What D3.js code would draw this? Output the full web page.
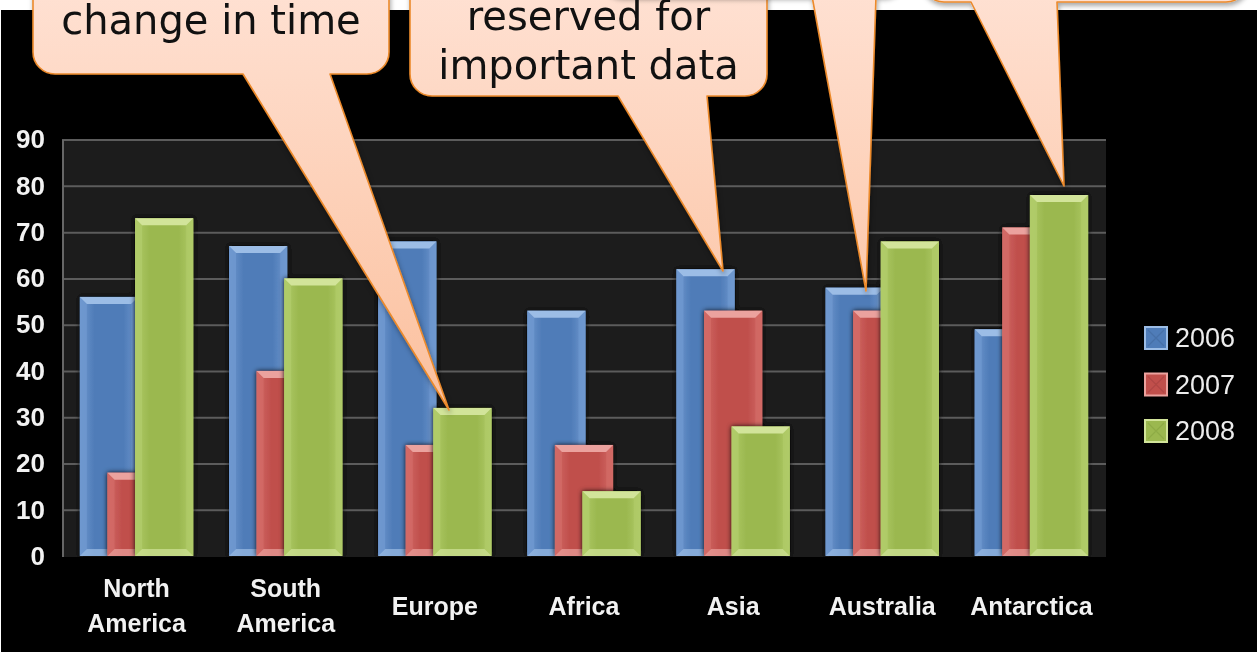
<!DOCTYPE html>
<html>
<head>
<meta charset="utf-8">
<script src="https://cdn.jsdelivr.net/npm/d3@7"></script>
<style>
  html, body { margin: 0; padding: 0; background: #ffffff; }
  svg { display: block; }
</style>
</head>
<body>
<svg id="chart" width="1257" height="652"></svg>
<script>
// ---- data ----
const categories = ["North America", "South America", "Europe", "Africa", "Asia", "Australia", "Antarctica"];
const seriesNames = ["2006", "2007", "2008"];
const values2006 = [56, 67, 68, 53, 62, 58, 49];
const values2007 = [18, 40, 24, 24, 53, 53, 71];
const values2008 = [73, 60, 32, 14, 28, 68, 78];
const yTicks = [0, 10, 20, 30, 40, 50, 60, 70, 80, 90];

// callout texts
const callouts = [
  { lines: ["change in time"] },
  { lines: ["reserved for", "important data"] },
  { lines: [] },
  { lines: [] }
];

const seriesValues = [values2006, values2007, values2008];

// bar palettes: body, cap (bevel highlight), side
const palette = [
  { body: "#4f7cb8", light: "#6f98cf", cap: "#9cbde6", dark: "#41699f" },
  { body: "#c04f4c", light: "#d26a66", cap: "#eba29e", dark: "#a5403d" },
  { body: "#9bb84f", light: "#b0cb68", cap: "#d2e49a", dark: "#86a33f" }
];

const svg = d3.select("#chart");
const W = 1257, H = 652;

// ---- layout ----
const plot = { left: 62, right: 1106, top: 140, bottom: 557 };

const x = d3.scaleBand().domain(categories).range([plot.left, plot.right]).padding(0);
const y = d3.scaleLinear().domain([0, 90]).range([556, 139.6]);

const defs = svg.append("defs");

// soft look of the chart image
const soft = defs.append("filter").attr("id", "soft").attr("x", "-5%").attr("y", "-5%").attr("width", "110%").attr("height", "110%");
soft.append("feGaussianBlur").attr("stdDeviation", 0.6);

const barShadow = defs.append("filter").attr("id", "barShadow").attr("x", "-20%").attr("y", "-20%").attr("width", "140%").attr("height", "140%");
barShadow.append("feDropShadow").attr("dx", 0).attr("dy", 0).attr("stdDeviation", 2.5)
  .attr("flood-color", "#000").attr("flood-opacity", 0.9);

const bubbleShadow = defs.append("filter").attr("id", "bubbleShadow").attr("x", "-10%").attr("y", "-10%").attr("width", "120%").attr("height", "130%");
bubbleShadow.append("feDropShadow").attr("dx", 1).attr("dy", 3).attr("stdDeviation", 2.5)
  .attr("flood-color", "#000").attr("flood-opacity", 0.35);

const bubbleFill = defs.append("linearGradient").attr("id", "bubbleFill")
  .attr("gradientUnits", "userSpaceOnUse").attr("x1", 0).attr("y1", -40).attr("x2", 0).attr("y2", 420);
bubbleFill.append("stop").attr("offset", 0).attr("stop-color", "#ffe3d6");
bubbleFill.append("stop").attr("offset", 1).attr("stop-color", "#fbbf9c");

palette.forEach((p, i) => {
  const g = defs.append("linearGradient").attr("id", "barBody" + i)
    .attr("x1", 0).attr("y1", 0).attr("x2", 1).attr("y2", 0);
  g.append("stop").attr("offset", 0).attr("stop-color", p.light);
  g.append("stop").attr("offset", 0.25).attr("stop-color", p.body);
  g.append("stop").attr("offset", 0.75).attr("stop-color", p.body);
  g.append("stop").attr("offset", 1).attr("stop-color", p.light);
});

// ---- background ----
svg.append("rect").attr("x", 0).attr("y", 0).attr("width", W).attr("height", H).attr("fill", "#ffffff");
svg.append("rect").attr("x", 1).attr("y", 10).attr("width", W - 1).attr("height", H - 10).attr("fill", "#000000");

const chart = svg.append("g").attr("filter", "url(#soft)");

chart.append("rect")
  .attr("x", plot.left).attr("y", plot.top)
  .attr("width", plot.right - plot.left).attr("height", plot.bottom - plot.top)
  .attr("fill", "#1b1b1b");

// gridlines + y labels through a d3 axis
const yAxis = chart.append("g")
  .attr("transform", `translate(${plot.left},0)`)
  .call(d3.axisLeft(y).tickValues(yTicks).tickSize(-(plot.right - plot.left)).tickPadding(17));
yAxis.select(".domain").remove();
yAxis.selectAll(".tick line")
  .attr("stroke", "#5c5c5c").attr("stroke-width", 2)
  .attr("display", d => d === 0 ? "none" : null);
yAxis.selectAll(".tick text")
  .attr("fill", "#f2f2f2")
  .attr("font-family", "'Liberation Sans', Arial, sans-serif")
  .attr("font-weight", "bold")
  .attr("font-size", 26);

// vertical axis line
chart.append("line")
  .attr("x1", plot.left + 1).attr("x2", plot.left + 1)
  .attr("y1", plot.top).attr("y2", plot.bottom)
  .attr("stroke", "#666").attr("stroke-width", 2);

// ---- bars ----
const band = x.bandwidth();
const barW = band * 0.39;
const step = band * 0.185;

function bevelBar(g, bx, by, bw, bh, p, i) {
  const b = Math.min(7, bh / 2, bw / 2);
  const x0 = bx, x1 = bx + bw, y0 = by, y1 = by + bh;
  g.append("rect").attr("x", x0).attr("y", y0).attr("width", bw).attr("height", bh)
    .attr("fill", `url(#barBody${i})`);
  // side bevels
  g.append("path").attr("d", `M${x0},${y0}L${x0 + b},${y0 + b}L${x0 + b},${y1 - b}L${x0},${y1}Z`)
    .attr("fill", p.light).attr("opacity", 0.85);
  g.append("path").attr("d", `M${x1},${y0}L${x1 - b},${y0 + b}L${x1 - b},${y1 - b}L${x1},${y1}Z`)
    .attr("fill", p.light).attr("opacity", 0.75);
  // top cap
  g.append("path").attr("d", `M${x0},${y0}L${x1},${y0}L${x1 - b},${y0 + b}L${x0 + b},${y0 + b}Z`)
    .attr("fill", p.cap);
  // bottom bevel
  g.append("path").attr("d", `M${x0},${y1}L${x1},${y1}L${x1 - b},${y1 - b}L${x0 + b},${y1 - b}Z`)
    .attr("fill", p.cap).attr("opacity", 0.7);
}

const groups = chart.append("g").selectAll("g.cat")
  .data(categories)
  .join("g").attr("class", "cat");

groups.each(function (cat, ci) {
  const g = d3.select(this);
  const center = x(cat) + band / 2;
  const left = center - (barW + 2 * step) / 2;
  seriesValues.forEach((vals, si) => {
    const v = vals[ci];
    const bx = left + si * step;
    const by = y(v);
    const bh = y(0) - by;
    const bg = g.append("g").attr("filter", "url(#barShadow)");
    bevelBar(bg, bx, by, barW, bh, palette[si], si);
  });
});

// ---- category labels ----
const labelLines = {
  "North America": ["North", "America"],
  "South America": ["South", "America"]
};
const xLabels = chart.append("g")
  .attr("font-family", "'Liberation Sans', Arial, sans-serif")
  .attr("font-weight", "bold")
  .attr("font-size", 25)
  .attr("fill", "#f2f2f2")
  .attr("text-anchor", "middle");
categories.forEach(cat => {
  const lines = labelLines[cat] || [cat];
  const cx = x(cat) + band / 2;
  const t = xLabels.append("text");
  if (lines.length === 1) {
    t.append("tspan").attr("x", cx).attr("y", 615).text(lines[0]);
  } else {
    t.append("tspan").attr("x", cx).attr("y", 597).text(lines[0]);
    t.append("tspan").attr("x", cx).attr("y", 632).text(lines[1]);
  }
});

// ---- legend ----
const legend = chart.append("g").attr("transform", "translate(1145,338)");
seriesNames.forEach((name, i) => {
  const row = legend.append("g").attr("transform", `translate(0,${i * 46.5})`);
  row.append("rect").attr("x", 0).attr("y", -11).attr("width", 22).attr("height", 22)
    .attr("fill", palette[i].body).attr("stroke", palette[i].cap).attr("stroke-width", 2);
  row.append("path").attr("d", "M3,-8L19,8M19,-8L3,8")
    .attr("stroke", palette[i].dark).attr("stroke-width", 1.2).attr("opacity", 0.6);
  row.append("text").attr("x", 30).attr("y", 0).attr("dy", "0.35em")
    .attr("font-family", "'Liberation Sans', Arial, sans-serif")
    .attr("font-size", 27)
    .attr("fill", "#ececec")
    .text(name);
});

// ---- speech bubbles ----
const bubbles = [
  { x0: 33, x1: 389, y0: -140, y1: 74, b1: 243, b2: 330, tip: [449, 410], cx: 211, base: [34] },
  { x0: 410, x1: 767, y0: -140, y1: 96, b1: 618, b2: 707, tip: [723, 271], cx: 588.5, base: [30, 79] },
  { x0: 600, x1: 905, y0: -160, y1: -4, b1: 812, b2: 876, tip: [866, 291], cx: 752, base: [] },
  { x0: 922, x1: 1248, y0: -160, y1: 2, b1: 971, b2: 1057, tip: [1064, 186], cx: 1085, base: [] }
];

function bubblePath(d, r) {
  return `M${d.x0 + r},${d.y0}H${d.x1 - r}A${r},${r} 0 0 1 ${d.x1},${d.y0 + r}` +
    `V${d.y1 - r}A${r},${r} 0 0 1 ${d.x1 - r},${d.y1}` +
    `H${d.b2}L${d.tip[0]},${d.tip[1]}L${d.b1},${d.y1}` +
    `H${d.x0 + r}A${r},${r} 0 0 1 ${d.x0},${d.y1 - r}V${d.y0 + r}A${r},${r} 0 0 1 ${d.x0 + r},${d.y0}Z`;
}

const bubbleLayer = svg.append("g");
bubbles.forEach((d, i) => {
  const g = bubbleLayer.append("g");
  g.append("path").attr("d", bubblePath(d, 22))
    .attr("fill", "url(#bubbleFill)")
    .attr("stroke", "#ec8a2c").attr("stroke-width", 1.6)
    .attr("stroke-linejoin", "round")
    .attr("filter", "url(#bubbleShadow)");
  callouts[i].lines.forEach((line, li) => {
    g.append("text")
      .attr("x", d.cx).attr("y", d.base[li])
      .attr("text-anchor", "middle")
      .attr("font-family", "'DejaVu Sans', sans-serif")
      .attr("font-size", 40)
      .attr("fill", "#111")
      .text(line);
  });
});
</script>
</body>
</html>
